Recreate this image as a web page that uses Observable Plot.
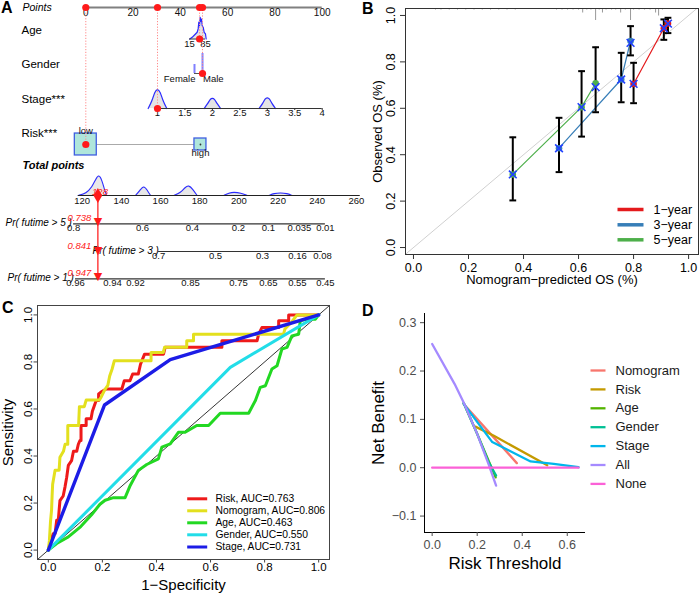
<!DOCTYPE html>
<html><head><meta charset="utf-8">
<script src="https://cdn.jsdelivr.net/npm/d3@7"></script>
<script src="https://cdn.jsdelivr.net/npm/@observablehq/plot@0.6"></script>
<style>
body{margin:0;background:#fff;}
#wrap{position:relative;width:700px;height:593px;overflow:hidden;background:#fff;font-family:"Liberation Sans",Arial,sans-serif;}
.panel{position:absolute;}
.tag{position:absolute;font-weight:bold;font-size:16px;line-height:1;font-family:"Liberation Sans",Arial,sans-serif;color:#000;}
</style></head><body><div id="wrap"></div>
<script>
// ================= DATA =================
// --- Panel A: nomogram
const pointsTicks = [0, 20, 40, 60, 80, 100];
const ageTicks = [15, 85];
const ageTickPoints = [43.87, 50.63];
const ageDensity = [[16.3,0],[26.7,0.08],[41.3,0.24],[48.6,0.32],[52.9,0.48],[55.7,0.8],[58.8,0.63],[61.8,1.03],[64.4,0.84],[67.5,0.95],[70.6,0.63],[74.9,0.56],[79.3,0.32],[85,0.24],[88,0]];
const genderLevels = ["Female", "Male"];
const genderPoints = [45.98, 49.37];
const genderFreq = [0.43, 0.95];
const stageTicks = [1, 1.5, 2, 2.5, 3, 3.5, 4];
const stageTickPoints = [30.33, 100];
const stageDensity = [
  [[0.83,0],[0.9,0.35],[0.95,0.8],[1,0.95],[1.05,0.8],[1.1,0.35],[1.17,0]],
  [[1.85,0],[1.92,0.25],[1.96,0.45],[2,0.5],[2.04,0.45],[2.08,0.25],[2.15,0]],
  [[2.85,0],[2.92,0.25],[2.96,0.47],[3,0.52],[3.04,0.47],[3.08,0.25],[3.15,0]]
];
const riskLevels = ["low", "high"];
const riskPoints = [0, 48.5];
const riskFreq = [0.77, 0.23];
const totalTicks = [120, 140, 160, 180, 200, 220, 240, 260];
const totalAxisRange = [118, 262];
const totalAtZeroPoints = 121.84;
const totalPerPoint = 0.8283;
const totalDensity = [
  [[118,0],[122,0.1],[125,0.4],[127,0.8],[128.5,1.0],[130,0.75],[131.5,0.25],[132.5,0]],
  [[147.2,0],[149.5,0.25],[151.5,0.48],[153.2,0.25],[154.9,0]],
  [[166.8,0],[170,0.12],[172.5,0.38],[174.4,0.5],[176.5,0.3],[178.7,0]],
  [[192.3,0],[195,0.12],[197.4,0.16],[201,0.12],[204.3,0]],
  [[215.3,0],[218,0.1],[221.3,0.13],[224.5,0.1],[227.3,0]]
];
const pr5Labels = ["0.8","0.6","0.4","0.2","0.1","0.035","0.01"];
const pr5Total = [115.6, 150.8, 176.3, 199.8, 215.1, 230.9, 244.2];
const pr3Labels = ["0.7","0.5","0.3","0.16","0.08"];
const pr3Total = [159.0, 188.1, 212.1, 230.0, 242.7];
const pr1Labels = ["0.96","0.94","0.92","0.85","0.75","0.65","0.55","0.45"];
const pr1Total = [116.6, 135.5, 147.2, 175.3, 199.8, 215.1, 229.9, 244.2];
const patientAge = 59, patientGender = "Male", patientStage = 1, patientRisk = "low";
const patientTotal = 128;
const patientPr = ["0.738", "0.841", "0.947"]; // 5-, 3-, 1-year

// --- Panel B: calibration
const calSeries = ["1-year", "3-year", "5-year"];
const calColors = ["#e41a1c", "#377eb8", "#4daf4a"];
const calPred1 = [0.800, 0.910, 0.925], calObs1 = [0.705, 0.945, 0.965], calCorr1 = [0.705, 0.945, 0.965], calLo1 = [0.622, 0.895, 0.924], calHi1 = [0.796, 0.983, 0.990];
const calPred3 = [0.529, 0.755, 0.789], calObs3 = [0.428, 0.724, 0.890], calCorr3 = [0.428, 0.724, 0.882], calLo3 = [0.325, 0.626, 0.828], calHi3 = [0.559, 0.839, 0.954];
const calPred5 = [0.361, 0.611, 0.662], calObs5 = [0.315, 0.605, 0.708], calCorr5 = [0.315, 0.605, 0.691], calLo5 = [0.203, 0.478, 0.583], calHi5 = [0.475, 0.760, 0.863];
const rugX = [0.08,0.10,0.13,0.16,0.19,0.22,0.25,0.28,0.31,0.34,0.37,0.52,0.54,0.56,0.58,0.60,0.615,0.63,0.645,0.662,0.675,0.687,0.70,0.72,0.735,0.753,0.77,0.789,0.80,0.82,0.84,0.86,0.88,0.891,0.905];
const rugCount = [1,1,1,1,1,1,1,1,1,1,1,1,1,1,1,1,3,1,1,8,1,3,1,1,1,3,1,8,1,1,1,1,3,5,1];
const calTicks = [0, 0.2, 0.4, 0.6, 0.8, 1.0];

// --- Panel C: ROC
const rocNames = ["Risk", "Nomogram", "Age", "Gender", "Stage"];
const rocAUC = ["0.763", "0.806", "0.463", "0.550", "0.731"];
const rocColors = ["#ee1a1a", "#e3e01e", "#22d822", "#22dde8", "#1c1ce6"];
const rocRisk = [[0,0],[0.006,0.028],[0.018,0.07],[0.025,0.07],[0.031,0.127],[0.037,0.13],[0.043,0.21],[0.055,0.23],[0.062,0.27],[0.068,0.31],[0.074,0.36],[0.086,0.38],[0.093,0.42],[0.105,0.42],[0.111,0.45],[0.117,0.466],[0.121,0.466],[0.121,0.53],[0.14,0.53],[0.14,0.558],[0.158,0.558],[0.163,0.59],[0.177,0.636],[0.186,0.636],[0.186,0.664],[0.198,0.674],[0.214,0.685],[0.272,0.685],[0.281,0.72],[0.302,0.72],[0.312,0.749],[0.333,0.749],[0.341,0.79],[0.356,0.833],[0.426,0.833],[0.432,0.862],[0.642,0.862],[0.642,0.89],[0.772,0.89],[0.778,0.918],[0.79,0.946],[0.852,0.946],[0.852,0.975],[0.889,0.975],[0.889,1],[1,1]];
const rocNomogram = [[0,0],[0.004,0.04],[0.008,0.12],[0.012,0.17],[0.014,0.23],[0.016,0.28],[0.025,0.34],[0.04,0.34],[0.043,0.395],[0.056,0.42],[0.062,0.45],[0.072,0.45],[0.072,0.53],[0.112,0.53],[0.115,0.61],[0.133,0.61],[0.14,0.638],[0.189,0.638],[0.195,0.65],[0.208,0.68],[0.22,0.70],[0.227,0.74],[0.236,0.77],[0.244,0.805],[0.38,0.805],[0.38,0.84],[0.425,0.84],[0.43,0.862],[0.512,0.862],[0.512,0.89],[0.537,0.89],[0.537,0.918],[0.87,0.918],[0.875,0.94],[0.9,0.97],[0.92,1],[1,1]];
const rocAge = [[0,0],[0.031,0.028],[0.074,0.056],[0.12,0.1],[0.16,0.15],[0.191,0.195],[0.21,0.212],[0.241,0.223],[0.284,0.223],[0.303,0.275],[0.333,0.339],[0.364,0.364],[0.407,0.388],[0.42,0.438],[0.451,0.452],[0.481,0.501],[0.506,0.501],[0.549,0.53],[0.593,0.53],[0.636,0.582],[0.741,0.582],[0.766,0.636],[0.784,0.692],[0.803,0.699],[0.827,0.77],[0.846,0.784],[0.864,0.855],[0.883,0.862],[0.901,0.911],[0.926,0.918],[0.932,0.975],[0.957,0.982],[0.988,0.982],[1,1]];
const rocGender = [[0,0],[0.673,0.777],[1,1]];
const rocStage = [[0,0],[0.208,0.617],[0.451,0.81],[1,1]];

// --- Panel D: decision curves
const dcaNames = ["Nomogram", "Risk", "Age", "Gender", "Stage", "All", "None"];
const dcaColors = ["#F8766D", "#C49A00", "#53B400", "#00C094", "#00B6EB", "#A58AFF", "#FB61D7"];
const dcaNomogram = [[0.14,0.132],[0.259,0.07],[0.376,0.0095]];
const dcaRisk = [[0.192,0.085],[0.274,0.066],[0.511,0.005]];
const dcaAge = [[0.14,0.134],[0.2,0.07],[0.26,0.004],[0.282,-0.02]];
const dcaGender = [[0.14,0.134],[0.2,0.07],[0.25,0.012],[0.284,-0.016]];
const dcaStage = [[0.14,0.132],[0.267,0.053],[0.437,0.013],[0.54,0.008],[0.65,0.001]];
const dcaAll = [[0,0.256],[0.1,0.173],[0.14,0.135],[0.2,0.07],[0.25,0.008],[0.284,-0.037]];
const dcaNone = [[0,0],[0.65,0]];
const dcaXTicks = [0, 0.2, 0.4, 0.6];
const dcaYTicks = [-0.1, 0, 0.1, 0.2, 0.3];

// ================= HELPERS =================
const FONT = '"Liberation Sans", Arial, Helvetica, sans-serif';
const wrap = document.getElementById("wrap");
function place(svg, left, top) {
  const d = document.createElement("div");
  d.className = "panel"; d.style.left = left + "px"; d.style.top = top + "px";
  d.appendChild(svg); wrap.appendChild(d);
}
function tag(t, left, top) {
  const d = document.createElement("div");
  d.className = "tag"; d.textContent = t; d.style.left = left + "px"; d.style.top = top + "px";
  wrap.appendChild(d);
}
const fmt1 = d3.format(".1f");
const baseStyle = {fontFamily: FONT, fontSize: "12px", background: "transparent", overflow: "visible"};

// ================= PANEL A =================
{
  const W = 350, H = 300;
  const originPx = 85.3, pxPerPoint = 2.364;
  const P = px => (px - originPx) / pxPerPoint; // layout pixel -> points units
  const agePts = a => ageTickPoints[0] + (a - ageTicks[0]) / (ageTicks[1] - ageTicks[0]) * (ageTickPoints[1] - ageTickPoints[0]);
  const stagePts = s => stageTickPoints[0] + (s - 1) / 3 * (stageTickPoints[1] - stageTickPoints[0]);
  const totalPts = t => (t - totalAtZeroPoints) * totalPerPoint;
  const rows = {points: 7, age: 38.5, gender: 73, stage: 108, risk: 144, total: 195, pr5: 223.3, pr3: 251, pr1: 278.3};
  const densH = 21;
  const red = "#ff1a1a";
  const blue = "#2a2aff";
  const gPts = genderPoints[genderLevels.indexOf(patientGender)];
  const rPts = riskPoints[riskLevels.indexOf(patientRisk)];
  const chosen = [
    {x: rPts, y: rows.risk}, {x: stagePts(patientStage), y: rows.stage},
    {x: agePts(patientAge), y: rows.age}, {x: gPts, y: rows.gender}
  ];
  const stageFlat = stageDensity.flatMap((b, i) => b.map(d => ({s: d[0], h: d[1], k: i})));
  const totalFlat = totalDensity.flatMap((b, i) => b.map(d => ({t: d[0], h: d[1], k: i})));
  const boxSide = f => Math.sqrt(f) * 25 / pxPerPoint;
  const riskBoxes = riskLevels.map((r, i) => ({x: riskPoints[i], half: boxSide(riskFreq[i]) / 2, halfY: Math.sqrt(riskFreq[i]) * 25 / 2}));
  const prRows = [
    {labels: pr5Labels, tot: pr5Total, y: rows.pr5},
    {labels: pr3Labels, tot: pr3Total, y: rows.pr3},
    {labels: pr1Labels, tot: pr1Total, y: rows.pr1}
  ];
  const prTicks = prRows.flatMap(r => r.labels.map((l, i) => ({l, x: totalPts(r.tot[i]), y: r.y})));
  const txt = {fill: "#111"};
  const marks = [
    // row labels
    Plot.text(["Points"], {x: P(22), y: rows.points, textAnchor: "start", fontStyle: "italic", fontSize: 10.5}),
    Plot.text([{t: "Age", y: 30}, {t: "Gender", y: 64}, {t: "Stage***", y: 99}, {t: "Risk***", y: 133}], {x: P(21), y: "y", text: "t", textAnchor: "start", fontSize: 11.5}),
    Plot.text(["Total points"], {x: P(22), y: 165, textAnchor: "start", fontStyle: "italic", fontWeight: "bold", fontSize: 11}),
    Plot.text([{t: "Pr( futime > 5 )", px: 5, y: 222}, {t: "Pr( futime > 3 )", px: 92, y: 250}, {t: "Pr( futime > 1 )", px: 7, y: 277}], {x: d => P(d.px), y: "y", text: "t", textAnchor: "start", fontStyle: "italic", fontSize: 10}),
    // points axis
    Plot.ruleY([rows.points], {x1: pointsTicks[0], x2: pointsTicks[pointsTicks.length - 1], stroke: "#808080", strokeWidth: 2}),
    Plot.text(pointsTicks, {x: d => d, y: rows.points + 5.5, text: d => String(d), fontSize: 10, ...txt}),
    // age
    Plot.areaY(ageDensity, {x: d => agePts(d[0]), y1: rows.age, y2: d => rows.age - d[1] * densH, fill: "#e4e4e4"}),
    Plot.line(ageDensity, {x: d => agePts(d[0]), y: d => rows.age - d[1] * densH, stroke: blue, strokeWidth: 1.2}),
    Plot.ruleY([rows.age], {x1: agePts(ageTicks[0]), x2: agePts(ageTicks[1]), stroke: "#333"}),
    Plot.text(ageTicks, {x: d => agePts(d), y: rows.age + 4.5, text: d => String(d), fontSize: 9.5, ...txt}),
    // gender
    Plot.ruleX(genderLevels, {x: (d, i) => genderPoints[i], y1: rows.gender, y2: (d, i) => rows.gender - genderFreq[i] * densH, stroke: "#8080ff", strokeWidth: 2}),
    Plot.ruleY([rows.gender], {x1: genderPoints[0], x2: genderPoints[1], stroke: "#555"}),
    Plot.text([genderLevels[0]], {x: genderPoints[0], y: rows.gender + 5.5, textAnchor: "end", dx: 1, fontSize: 9.5, ...txt}),
    Plot.text([genderLevels[1]], {x: genderPoints[1], y: rows.gender + 5.5, textAnchor: "start", dx: 0.5, fontSize: 9.5, ...txt}),
    // stage
    Plot.areaY(stageFlat, {x: d => stagePts(d.s), y1: rows.stage, y2: d => rows.stage - d.h * densH, z: "k", fill: "#e4e4e4", curve: "basis"}),
    Plot.line(stageFlat, {x: d => stagePts(d.s), y: d => rows.stage - d.h * densH, z: "k", stroke: blue, strokeWidth: 1.2, curve: "basis"}),
    Plot.ruleY([rows.stage], {x1: stagePts(1), x2: stagePts(4), stroke: "#333"}),
    Plot.ruleX(stageTicks, {x: d => stagePts(d), y1: rows.stage, y2: rows.stage + 2, stroke: "#333"}),
    Plot.text(stageTicks, {x: d => stagePts(d), y: rows.stage + 4.5, text: d => String(d), fontSize: 9.5, ...txt}),
    // risk
    Plot.ruleY([rows.risk], {x1: riskPoints[0], x2: riskPoints[1], stroke: "#aaa"}),
    Plot.rect(riskBoxes, {x1: d => d.x - d.half, x2: d => d.x + d.half, y1: d => rows.risk - d.halfY, y2: d => rows.risk + d.halfY, fill: "#afe6db", stroke: "#3f5fe0", strokeWidth: 1.3}),
    Plot.dot([riskPoints[1]], {x: d => d, y: rows.risk, r: 0.9, fill: "#333"}),
    Plot.text(["low"], {x: riskPoints[0], y: rows.risk - 14, fontSize: 9.5, ...txt}),
    Plot.text(["high"], {x: riskPoints[1], y: rows.risk + 8, fontSize: 9.5, ...txt}),
    // total points
    Plot.areaY(totalFlat, {x: d => totalPts(d.t), y1: rows.total, y2: d => rows.total - d.h * densH, z: "k", fill: "#e8e8e8", curve: "basis"}),
    Plot.line(totalFlat, {x: d => totalPts(d.t), y: d => rows.total - d.h * densH, z: "k", stroke: blue, strokeWidth: 1.1, curve: "basis"}),
    Plot.ruleY([rows.total], {x1: totalPts(totalAxisRange[0]), x2: totalPts(totalAxisRange[1]), stroke: "#222", strokeWidth: 1.2}),
    Plot.text(totalTicks, {x: d => totalPts(d), y: rows.total + 5.5, text: d => String(d), fontSize: 9.5, ...txt}),
    // probability axes
    Plot.ruleY(prRows, {y: "y", x1: d => totalPts(d.tot[0]), x2: d => totalPts(d.tot[d.tot.length - 1]), stroke: "#333", strokeWidth: 1.2}),
    Plot.text(prTicks, {x: "x", y: d => d.y + 4.5, text: "l", fontSize: 9.5, ...txt}),
    // patient overlay
    Plot.ruleX(chosen, {x: "x", y1: rows.points, y2: "y", stroke: "#ff8a8a", strokeWidth: 1, strokeDasharray: "1.2,1.6"}),
    Plot.dot(chosen, {x: "x", y: rows.points, r: 3.6, fill: red}),
    Plot.dot(chosen, {x: "x", y: "y", r: 3.6, fill: red}),
    Plot.ruleX([patientTotal], {x: d => totalPts(d), y1: rows.total, y2: rows.pr1, stroke: "#ff4040", strokeWidth: 1.5}),
    Plot.dot([patientTotal], {x: d => totalPts(d), y: rows.total, symbol: "diamond", r: 4.6, fill: red}),
    Plot.text([rows.pr5 - 2, rows.pr3 - 1.5, rows.pr1 - 2], {x: totalPts(patientTotal), y: d => d, text: () => "▼", fontSize: 11, fill: red, fontFamily: "DejaVu Sans"}),
    Plot.text([String(patientTotal)], {x: totalPts(patientTotal) + 0.9, y: rows.total - 4, fontStyle: "italic", fontSize: 9.5, fill: red}),
    Plot.text(patientPr, {x: totalPts(patientTotal) - 2.8, y: (d, i) => [217.3, 245, 272.7][i], text: d => d, textAnchor: "end", fontStyle: "italic", fontSize: 9.5, fill: red})
  ];
  const svg = Plot.plot({
    width: W, height: H, margin: 0,
    x: {domain: [P(0), P(W)], range: [0, W], axis: null},
    y: {domain: [0, H], range: [0, H], axis: null},
    style: baseStyle,
    marks
  });
  place(svg, 0, 0);
}

// ================= PANEL B =================
{
  const W = 350, H = 300, ML = 55, MR = 2, MT = 8, MB = 46;
  const XD = [-0.029, 1.036], YD = [-0.03, 1.03];
  const ix = px => XD[0] + (px - ML) / (W - ML - MR) * (XD[1] - XD[0]);
  const iy = py => YD[1] - (py - MT) / (H - MT - MB) * (YD[1] - YD[0]);
  const yPerPx = (YD[1] - YD[0]) / (H - MT - MB);
  const preds = [calPred1, calPred3, calPred5], obs = [calObs1, calObs3, calObs5], corr = [calCorr1, calCorr3, calCorr5], lo = [calLo1, calLo3, calLo5], hi = [calHi1, calHi3, calHi5];
  const cal = calSeries.flatMap((s, k) => preds[k].map((p, i) => ({s, k, p, o: obs[k][i], c: corr[k][i], lo: lo[k][i], hi: hi[k][i]})));
  const rug = rugX.map((x, i) => ({x, n: rugCount[i]}));
  const capHalf = 3.4 * (XD[1] - XD[0]) / (W - ML - MR);
  const leg = calSeries.map((s, k) => ({s, k, y: iy([209, 224.3, 239.3][k])}));
  const svg = Plot.plot({
    width: W, height: H, marginLeft: ML, marginRight: MR, marginTop: MT, marginBottom: MB,
    x: {domain: XD, label: null}, y: {domain: YD, label: null},
    style: baseStyle,
    marks: [
      Plot.link([0], {x1: YD[0], y1: YD[0], x2: YD[1], y2: YD[1], stroke: "#d0d0d0", strokeWidth: 1, clip: true}),
      Plot.ruleX(rug, {x: "x", y1: YD[1], y2: d => YD[1] - d.n * 1.5 * yPerPx, stroke: "#999", strokeWidth: 1}),
      Plot.line(cal, {x: "p", y: "o", z: "s", stroke: d => calColors[d.k], strokeWidth: 1.2}),
      Plot.ruleX(cal, {x: "p", y1: "lo", y2: "hi", stroke: "#000", strokeWidth: 2}),
      Plot.link(cal, {x1: d => d.p - capHalf, x2: d => d.p + capHalf, y1: "lo", y2: "lo", stroke: "#000", strokeWidth: 2}),
      Plot.link(cal, {x1: d => d.p - capHalf, x2: d => d.p + capHalf, y1: "hi", y2: "hi", stroke: "#000", strokeWidth: 2}),
      Plot.dot(cal, {x: "p", y: "o", r: 3.3, fill: d => calColors[d.k]}),
      Plot.dot(cal, {x: "p", y: "c", r: 3.6, symbol: "times", stroke: "#2040ff", strokeWidth: 1.6}),
      Plot.frame({stroke: "#333"}),
      Plot.axisX(calTicks, {tickSize: 5, tickFormat: () => "", stroke: "#333", label: null}),
      Plot.axisY(calTicks, {tickSize: 5, tickFormat: () => "", stroke: "#333", label: null}),
      Plot.text(calTicks, {x: d => d, frameAnchor: "bottom", dy: 13.5, text: fmt1, textAnchor: "middle", lineAnchor: "middle", fontSize: 12.5}),
      Plot.text(calTicks, {y: d => d, frameAnchor: "left", dx: -15, rotate: -90, text: fmt1, textAnchor: "middle", lineAnchor: "middle", fontSize: 12.5}),
      Plot.text(["Nomogram\u2212predicted OS (%)"], {frameAnchor: "bottom", dy: 25, textAnchor: "middle", lineAnchor: "middle", fontSize: 13}),
      Plot.text(["Observed OS (%)"], {frameAnchor: "left", dx: -28, rotate: -90, textAnchor: "middle", lineAnchor: "middle", fontSize: 13}),
      Plot.link(leg, {x1: ix(267), x2: ix(293), y1: "y", y2: "y", stroke: d => calColors[d.k], strokeWidth: 3.5}),
      Plot.text(leg, {x: ix(303), y: "y", text: d => d.s.replace("-", "\u2212"), textAnchor: "start", lineAnchor: "middle", fontSize: 12.5})
    ]
  });
  place(svg, 350, 0);
}

// ================= PANEL C =================
{
  const W = 350, H = 293, ML = 37, MR = 21, MT = 5, MB = 34;
  const XD = [-0.04, 1.04], YD = [-0.04, 1.04];
  const ix = px => XD[0] + (px - ML) / (W - ML - MR) * (XD[1] - XD[0]);
  const iy = py => YD[1] - (py - MT) / (H - MT - MB) * (YD[1] - YD[0]);
  const curves = [rocRisk, rocNomogram, rocAge, rocGender, rocStage];
  const roc = rocNames.flatMap((n, k) => curves[k].map(d => ({n, k, fpr: d[0], tpr: d[1]})));
  const leg = rocNames.map((n, k) => ({n, k, y: iy([198.3, 210.3, 222.3, 234.3, 246.5][k])}));
  const ticks = [0, 0.2, 0.4, 0.6, 0.8, 1.0];
  const svg = Plot.plot({
    width: W, height: H, marginLeft: ML, marginRight: MR, marginTop: MT, marginBottom: MB,
    x: {domain: XD, label: null}, y: {domain: YD, label: null},
    style: baseStyle,
    marks: [
      Plot.link([0], {x1: XD[0], y1: YD[0], x2: XD[1], y2: YD[1], stroke: "#000", strokeWidth: 0.8, clip: true}),
      ...rocNames.map((n, k) => Plot.line(roc.filter(d => d.k === k), {x: "fpr", y: "tpr", stroke: rocColors[k], strokeWidth: k === 4 ? 3.4 : 3})),
      Plot.frame({stroke: "#444"}),
      Plot.axisX(ticks, {tickSize: 3.5, tickFormat: () => "", stroke: "#444", label: null}),
      Plot.axisY(ticks, {tickSize: 3.5, tickFormat: () => "", stroke: "#444", label: null}),
      Plot.text(ticks, {x: d => d, frameAnchor: "bottom", dy: 8, text: fmt1, textAnchor: "middle", lineAnchor: "middle", fontSize: 11.5}),
      Plot.text(ticks, {y: d => d, frameAnchor: "left", dx: -9, rotate: -90, text: fmt1, textAnchor: "middle", lineAnchor: "middle", fontSize: 11.5}),
      Plot.text(["1\u2212Specificity"], {frameAnchor: "bottom", dy: 26, textAnchor: "middle", lineAnchor: "middle", fontSize: 15}),
      Plot.text(["Sensitivity"], {frameAnchor: "left", dx: -29, rotate: -90, textAnchor: "middle", lineAnchor: "middle", fontSize: 15}),
      Plot.link(leg, {x1: ix(186.7), x2: ix(206.7), y1: "y", y2: "y", stroke: d => rocColors[d.k], strokeWidth: 3}),
      Plot.text(leg, {x: ix(215), y: "y", text: d => `${d.n}, AUC=${rocAUC[d.k]}`, textAnchor: "start", lineAnchor: "middle", fontSize: 10.3})
    ]
  });
  place(svg, 0, 300);
}

// ================= PANEL D =================
{
  const W = 350, H = 293, ML = 74, MR = 115, MT = 13, MB = 61;
  const XD = [-0.034, 0.681], YD = [-0.134, 0.319];
  const ix = px => XD[0] + (px - ML) / (W - ML - MR) * (XD[1] - XD[0]);
  const iy = py => YD[1] - (py - MT) / (H - MT - MB) * (YD[1] - YD[0]);
  const curves = [dcaNomogram, dcaRisk, dcaAge, dcaGender, dcaStage, dcaAll, dcaNone];
  const leg = dcaNames.map((n, k) => ({n, k, y: iy(70 + k * 18.9)}));
  const svg = Plot.plot({
    width: W, height: H, marginLeft: ML, marginRight: MR, marginTop: MT, marginBottom: MB,
    x: {domain: XD, label: null}, y: {domain: YD, label: null},
    style: baseStyle,
    marks: [
      ...dcaNames.map((n, k) => Plot.line(curves[k], {x: d => d[0], y: d => d[1], stroke: dcaColors[k], strokeWidth: 2.3})),
      Plot.ruleX([XD[0]], {stroke: "#000", strokeWidth: 1}),
      Plot.ruleY([YD[0]], {stroke: "#000", strokeWidth: 1}),
      Plot.axisX(dcaXTicks, {tickSize: 4, tickPadding: 4, tickFormat: fmt1, fontSize: 12.5, color: "#4d4d4d", label: null}),
      Plot.axisY(dcaYTicks, {tickSize: 4, tickPadding: 4, tickFormat: fmt1, fontSize: 12.5, color: "#4d4d4d", label: null}),
      Plot.text(["Risk Threshold"], {frameAnchor: "bottom", dy: 31, textAnchor: "middle", lineAnchor: "middle", fontSize: 17}),
      Plot.text(["Net Benefit"], {frameAnchor: "left", dx: -46, rotate: -90, textAnchor: "middle", lineAnchor: "middle", fontSize: 17}),
      Plot.link(leg, {x1: ix(240), x2: ix(255), y1: "y", y2: "y", stroke: d => dcaColors[d.k], strokeWidth: 2.3}),
      Plot.text(leg, {x: ix(265), y: "y", text: "n", textAnchor: "start", lineAnchor: "middle", fontSize: 13, fill: "#1a1a1a"})
    ]
  });
  place(svg, 350, 300);
}

tag("A", 1, 0);
tag("B", 362, 1);
tag("C", 2, 300);
tag("D", 362, 303);
</script></body></html>
